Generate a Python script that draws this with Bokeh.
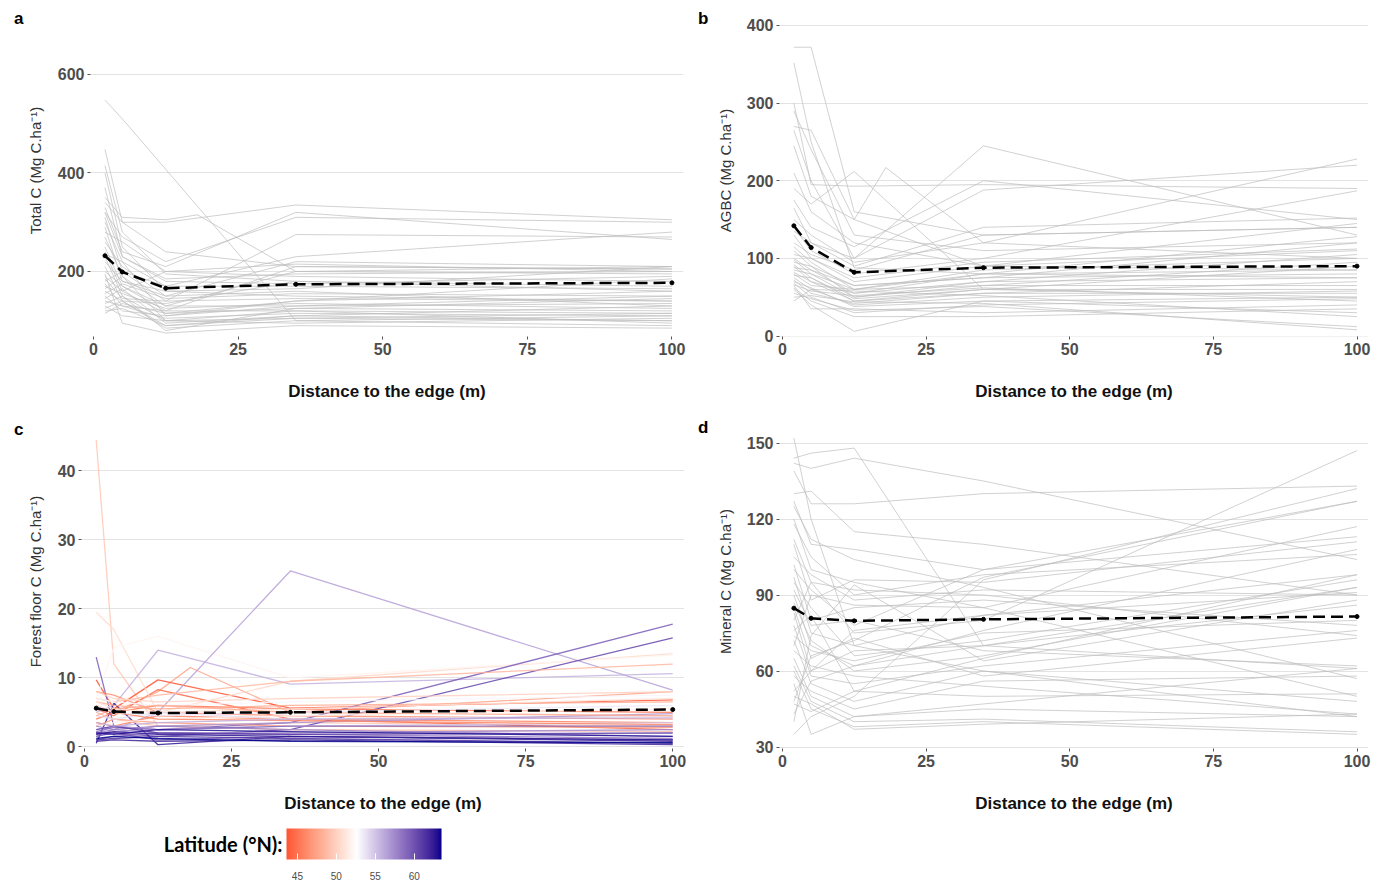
import math
from bokeh.plotting import figure
from bokeh.models import (ColumnDataSource, Range1d, Label, ColorBar, LinearColorMapper,
                          FixedTicker, LinearAxis)
from bokeh.transform import linear_cmap
from bokeh.layouts import row, column
from bokeh.embed import file_html
from bokeh.resources import INLINE

# ---------------- data ----------------
DIST = [2, 5, 12.5, 18, 35, 100]
MEAN_DIST = [2, 5, 12.5, 35, 100]
N = None

LATITUDE = [47.5, 49.5, 43.6, 44.5, 50.5, 52.0, 55.8, 56.5, 59.5, 60.5,
            62.5, 45.0, 45.8, 46.5, 47.0, 48.0, 48.5, 49.0, 50.0, 51.0,
            51.8, 53.0, 54.0, 55.0, 57.0, 57.5, 58.0, 58.5, 59.0, 60.0,
            61.0, 61.5, 62.0, 63.0, 63.5, 46.0, 47.8, 53.5, 56.0, 62.8]

TOTAL_C = [
    [548, 510, N, N, 100, 110], [448, 300, 240, N, 210, 205], [415, 280, 195, N, 180, 170],
    [400, 250, 160, N, 150, 140], [370, 230, 180, N, 175, 190], [350, 310, 305, 315, 200, 210],
    [340, 300, 300, N, 335, 305], [330, 240, 210, N, 320, 265], [320, 270, 220, N, 310, 300],
    [310, 200, 140, N, 275, 270], [300, 220, 170, N, 230, 280], [290, 180, 150, N, 220, 210],
    [280, 260, 200, N, 215, 200], [270, 190, 130, N, 130, 150], [260, 210, 150, N, 160, 130],
    [250, 170, 120, N, 120, 115], [240, 160, 200, N, 190, 180], [235, 220, 110, N, 140, 160],
    [230, 150, 100, N, 105, 100], [220, 180, 160, N, 165, 210], [210, 140, 90, N, 110, 130],
    [200, 170, 130, N, 200, 195], [195, 95, 75, N, 90, 85], [190, 160, 115, N, 125, 120],
    [185, 145, 140, N, 145, 140], [180, 200, 170, N, 170, 165], [175, 130, 105, N, 115, 110],
    [170, 155, 125, N, 135, 125], [165, 190, 100, N, 95, 105], [160, 140, 85, N, 100, 90],
    [155, 175, 145, N, 155, 150], [150, 120, 110, N, 130, 135], [145, 165, 95, N, 110, 100],
    [140, 130, 120, N, 210, 205], [135, 150, 80, N, 125, 145], [130, 110, 100, N, 120, 95],
    [125, 140, 135, N, 180, 160], [120, 125, 90, N, 105, 115], [115, 135, 115, N, 140, 185],
    [320, 230, 185, N, 195, 200]]

AGBC = [
    [372, 372, 160, N, 130, 140], [352, 250, 88, N, 80, 75], [300, 195, 193, N, 195, 190],
    [290, 240, 130, N, 110, 120], [270, 265, 150, N, 90, 85], [265, 200, 100, N, 245, 130],
    [245, 180, 150, 217, 120, 100], [190, 170, 212, N, 60, 50], [175, 140, 115, N, 200, 150],
    [165, 120, 100, N, 188, 220], [150, 130, 95, N, 120, 228], [140, 110, 80, N, 100, 187],
    [135, 120, 90, N, 140, 152], [130, 100, 70, N, 90, 145], [120, 105, 85, N, 130, 140],
    [115, 95, 60, N, 80, 128], [110, 90, 65, N, 75, 120], [105, 100, 75, N, 95, 112],
    [100, 85, 55, N, 70, 105], [98, 80, 60, N, 85, 100], [95, 90, 50, N, 65, 95],
    [92, 75, 45, N, 60, 90], [90, 70, 55, N, 80, 85], [88, 85, 65, N, 75, 80],
    [85, 80, 50, N, 70, 75], [82, 70, 45, N, 55, 70], [80, 65, 60, N, 65, 65],
    [78, 75, 48, N, 60, 60], [75, 60, 40, N, 50, 58], [72, 55, 42, N, 55, 55],
    [70, 62, 38, N, 45, 50], [68, 50, 30, N, 40, 48], [66, 58, 52, N, 62, 45],
    [65, 35, 35, N, 30, 40], [62, 45, 25, N, 25, 35], [60, 40, 6, N, 45, 30],
    [55, 48, 33, N, 38, 12], [50, 52, 44, N, 42, 8], [45, 60, 58, N, 52, 25],
    [210, 160, 120, N, 90, 110]]

FOREST_FLOOR_C = [
    [6.0, 5.0, 8.0, 11.5, 5.0, 8.0], [44.5, 12.0, 3.0, N, 3.5, 3.0], [9.7, 5.5, 9.7, N, 5.6, 6.8],
    [5.5, 4.5, 8.3, N, 4.0, 2.5], [19.5, 17.0, 5.0, N, 9.5, 13.5], [7.0, 14.4, 16.0, N, 10.0, 13.3],
    [5.0, 6.0, 14.0, N, 9.1, 10.6], [1.5, 2.5, 5.0, N, 25.5, 8.2], [13.0, 3.0, 2.5, N, 3.5, 17.8],
    [2.0, 2.0, 1.5, N, 2.5, 15.8], [0.5, 6.3, 0.3, N, 1.5, 0.8], [4.0, 5.0, 6.0, N, 5.5, 5.0],
    [3.5, 3.0, 4.5, N, 4.0, 3.5], [8.0, 7.5, 5.0, N, 4.5, 4.0], [3.0, 4.0, 3.5, N, 3.0, 2.8],
    [6.5, 6.0, 5.5, N, 6.0, 6.5], [7.0, 6.5, 7.5, N, 9.5, 12.0], [5.0, 4.0, 3.0, N, 2.5, 2.2],
    [8.0, 7.0, 6.5, N, 7.0, 8.0], [6.5, 5.5, 5.0, N, 5.5, 7.0], [3.0, 3.5, 4.0, N, 4.5, 5.5],
    [7.0, 6.5, 6.0, N, 6.5, 7.5], [4.5, 4.0, 5.0, N, 4.0, 4.5], [2.5, 3.0, 2.5, N, 3.0, 3.5],
    [1.8, 2.0, 3.0, N, 3.5, 4.8], [3.0, 2.5, 2.0, N, 2.0, 2.5], [2.0, 2.5, 3.0, N, 2.5, 1.5],
    [1.0, 1.5, 2.0, N, 1.8, 1.2], [2.2, 2.8, 2.5, N, 3.0, 3.0], [1.5, 2.0, 1.0, N, 1.5, 1.0],
    [2.5, 3.0, 2.0, N, 1.8, 2.0], [1.0, 1.2, 1.5, N, 1.2, 0.5], [0.8, 1.0, 0.8, N, 1.0, 0.3],
    [2.0, 1.8, 2.5, N, 2.2, 1.5], [1.2, 1.5, 1.2, N, 0.8, 0.6], [5.5, 5.0, 4.0, N, 3.8, 3.2],
    [4.5, 5.5, 6.0, N, 5.0, 4.5], [6.0, 5.0, 4.5, N, 5.0, 6.0], [3.5, 3.0, 3.5, N, 4.0, 4.2],
    [1.8, 2.2, 1.8, N, 1.5, 1.0]]

MINERAL_C = [
    [152, 120, 70, N, 60, 42], [144, 146, 148, N, 70, 61], [142, 140, 144, N, 135, 104],
    [139, 126, 126, N, 130, 133], [130, 131, 115, N, 110, 90], [127, 110, 108, N, 100, 113],
    [125, 112, 104, N, 93, 57], [120, 100, 95, N, 85, 117], [118, 105, 90, N, 98, 106],
    [112, 95, 75, N, 80, 147], [110, 88, 96, N, 95, 111], [105, 98, 88, N, 92, 90],
    [102, 80, 85, N, 88, 78], [100, 92, 78, N, 100, 127], [97, 75, 70, N, 82, 98],
    [95, 85, 66, N, 72, 96], [92, 78, 80, N, 68, 62], [90, 70, 62, N, 76, 108],
    [87, 72, 60, N, 66, 93], [85, 65, 73, N, 58, 73], [83, 60, 68, N, 70, 86],
    [80, 95, 92, N, 90, 74], [78, 58, 55, N, 62, 76], [76, 82, 52, N, 50, 51],
    [74, 68, 64, N, 75, 80], [72, 55, 48, N, 60, 48], [70, 90, 86, N, 85, 50],
    [68, 62, 58, N, 54, 43], [65, 50, 42, N, 45, 42], [62, 48, 40, N, 41, 36],
    [60, 45, 38, N, 40, 35], [58, 52, 45, N, 56, 58], [55, 35, 42, N, 47, 61],
    [52, 60, 76, N, 82, 91], [50, 47, 37, N, 39, 43], [47, 44, 52, N, 65, 98],
    [43, 56, 62, N, 70, 93], [40, 74, 94, N, 64, 88], [35, 42, 50, N, 96, 132],
    [48, 66, 72, N, 97, 127]]

MEAN_TOTAL = [232, 199, 166, 174, 177]
MEAN_AGBC = [142, 114, 82, 88, 90]
MEAN_FF = [5.6, 5.1, 4.9, 5.0, 5.4]
MEAN_MIN = [84.8, 80.8, 79.8, 80.4, 81.5]

LAT_MID = 52.6
LAT_TICKS = [45, 50, 55, 60]
X_TICKS = [0, 25, 50, 75, 100]

# ---------------- colour scale (red - white - darkblue, Lab) ----------------
def _lin(c):
    c = c / 255.0
    return c / 12.92 if c <= 0.04045 else ((c + 0.055) / 1.055) ** 2.4

def _gam(c):
    v = 12.92 * c if c <= 0.0031308 else 1.055 * (max(c, 0) ** (1 / 2.4)) - 0.055
    return int(max(0, min(255, round(v * 255))))

def _to_lab(rgb):
    r, g, b = (_lin(v) for v in rgb)
    X = (0.4124 * r + 0.3576 * g + 0.1805 * b) / 0.95047
    Y = 0.2126 * r + 0.7152 * g + 0.0722 * b
    Z = (0.0193 * r + 0.1192 * g + 0.9505 * b) / 1.08883
    f = lambda t: t ** (1 / 3) if t > 0.008856 else 7.787 * t + 16 / 116
    fx, fy, fz = f(X), f(Y), f(Z)
    return (116 * fy - 16, 500 * (fx - fy), 200 * (fy - fz))

def _from_lab(lab):
    L, a, b = lab
    fy = (L + 16) / 116
    fx = fy + a / 500
    fz = fy - b / 200
    fi = lambda t: t ** 3 if t ** 3 > 0.008856 else (t - 16 / 116) / 7.787
    X, Y, Z = fi(fx) * 0.95047, fi(fy), fi(fz) * 1.08883
    r = 3.2406 * X - 1.5372 * Y - 0.4986 * Z
    g = -0.9689 * X + 1.8758 * Y + 0.0415 * Z
    bb = 0.0557 * X - 0.2040 * Y + 1.0570 * Z
    return "#%02x%02x%02x" % (_gam(r), _gam(g), _gam(bb))

LOW_C, MID_C, HIGH_C = _to_lab((255, 0, 0)), _to_lab((255, 255, 255)), _to_lab((0, 0, 139))
LAT_LOW, LAT_HIGH = min(LATITUDE), max(LATITUDE)
_half = max(LAT_MID - LAT_LOW, LAT_HIGH - LAT_MID)
PALETTE = []
for i in range(256):
    v = LAT_LOW + (LAT_HIGH - LAT_LOW) * i / 255
    t = 0.5 + (v - LAT_MID) / (2 * _half)
    if t < 0.5:
        f = t / 0.5
        c = tuple(LOW_C[k] + (MID_C[k] - LOW_C[k]) * f for k in range(3))
    else:
        f = (t - 0.5) / 0.5
        c = tuple(MID_C[k] + (HIGH_C[k] - MID_C[k]) * f for k in range(3))
    PALETTE.append(_from_lab(c))

# ---------------- styling ----------------
FONT = "Liberation Sans"
GREY_LINE = "#bdbdbd"


def site_lines(table):
    xs, ys = [], []
    for r in table:
        pts = [(d, v) for d, v in zip(DIST, r) if v is not None]
        xs.append([d for d, _ in pts])
        ys.append([v for _, v in pts])
    return xs, ys


def make_fig(width, height, left, right, top, bottom, yr, yticks, ylabel, ystand,
             letter, letter_y, letter_standoff):
    p = figure(width=width, height=height, x_range=Range1d(-0.5, 102), y_range=Range1d(*yr),
               output_backend="svg", toolbar_location=None,
               min_border_left=left, min_border_right=right,
               min_border_top=top, min_border_bottom=bottom)
    p.outline_line_color = None
    p.background_fill_color = "white"
    p.xaxis.ticker = FixedTicker(ticks=X_TICKS)
    p.yaxis.ticker = FixedTicker(ticks=yticks)
    p.xgrid.grid_line_color = None
    p.ygrid.grid_line_color = "#e3e3e3"
    p.ygrid.grid_line_width = 1.2
    for ax in p.axis:
        ax.axis_line_color = None
        ax.major_tick_line_color = "#555555"
        ax.major_tick_out = 3
        ax.major_tick_in = 0
        ax.minor_tick_line_color = None
        ax.major_label_text_font = FONT
        ax.major_label_text_font_style = "bold"
        ax.major_label_text_font_size = "16px"
        ax.major_label_text_color = "#4d4d4d"
        ax.major_label_standoff = 3
    p.xaxis.axis_label = "Distance to the edge (m)"
    p.xaxis.axis_label_text_font = FONT
    p.xaxis.axis_label_text_font_style = "bold"
    p.xaxis.axis_label_text_font_size = "17px"
    p.xaxis.axis_label_text_color = "#111111"
    p.xaxis.axis_label_standoff = 24
    p.yaxis.axis_label = ylabel
    p.yaxis.axis_label_text_font = FONT
    p.yaxis.axis_label_text_font_style = "normal"
    p.yaxis.axis_label_text_font_size = "15px"
    p.yaxis.axis_label_text_color = "#333333"
    p.yaxis.axis_label_standoff = ystand
    # panel letter, drawn as the only label of an extra (invisible) left axis
    lab = LinearAxis(ticker=FixedTicker(ticks=[letter_y]),
                     major_label_overrides={letter_y: letter},
                     axis_line_color=None, major_tick_line_color=None,
                     minor_tick_line_color=None, major_tick_out=0, major_tick_in=0,
                     major_label_standoff=letter_standoff,
                     major_label_text_font=FONT, major_label_text_font_style="bold",
                     major_label_text_font_size="17px", major_label_text_color="black")
    p.add_layout(lab, "left")
    return p


def add_mean(p, mean):
    p.line(MEAN_DIST, mean, line_color="black", line_width=2.5, line_dash="12 6")
    p.scatter(MEAN_DIST, mean, size=4, color="black")


# panel a
pa = make_fig(693, 410, 90, 10, 4, 74, (68, 742.1), [200, 400, 600],
              "Total C (Mg C.ha\u207b\u00b9)", 11, "a", 714, 0)
xs, ys = site_lines(TOTAL_C)
pa.multi_line(xs, ys, line_color=GREY_LINE, line_alpha=0.7, line_width=1)
add_mean(pa, MEAN_TOTAL)

# panel b
pb = make_fig(693, 410, 86, 18, 4, 74, (-0.64, 427.05), [0, 100, 200, 300, 400],
              "AGBC (Mg C.ha\u207b\u00b9)", 10, "b", 409, 5)
xs, ys = site_lines(AGBC)
pb.multi_line(xs, ys, line_color=GREY_LINE, line_alpha=0.7, line_width=1)
add_mean(pb, MEAN_AGBC)

# panel c
pc = make_fig(693, 405, 81, 9, 4, 67, (-0.25, 48.19), [0, 10, 20, 30, 40],
              "Forest floor C (Mg C.ha\u207b\u00b9)", 11, "c", 46, 0)
xs, ys = site_lines(FOREST_FLOOR_C)
src_c = ColumnDataSource(dict(xs=xs, ys=ys, lat=LATITUDE))
pc.multi_line("xs", "ys", source=src_c,
              line_color=linear_cmap("lat", PALETTE, LAT_LOW, LAT_HIGH),
              line_width=1.3, line_alpha=0.85)
add_mean(pc, MEAN_FF)

# panel d
pd_ = make_fig(693, 405, 86, 18, 4, 67, (29.41, 161.25), [30, 60, 90, 120, 150],
               "Mineral C (Mg C.ha\u207b\u00b9)", 10, "d", 156, 5)
xs, ys = site_lines(MINERAL_C)
pd_.multi_line(xs, ys, line_color=GREY_LINE, line_alpha=0.7, line_width=1)
add_mean(pd_, MEAN_MIN)

# legend figure (its frame is aligned with panel c's frame: left = 81)
pl = figure(width=693, height=70, x_range=Range1d(0, 1), y_range=Range1d(0, 1),
            output_backend="svg", toolbar_location=None, x_axis_type=None, y_axis_type=None,
            min_border=0, min_border_left=81)
pl.outline_line_color = None
pl.xgrid.grid_line_color = None
pl.ygrid.grid_line_color = None
mapper = LinearColorMapper(palette=PALETTE, low=LAT_LOW, high=LAT_HIGH)
cb = ColorBar(color_mapper=mapper, orientation="horizontal", width=155, height=31,
              location=(205, 3), padding=0, ticker=FixedTicker(ticks=LAT_TICKS),
              major_label_text_font_size="10px", major_label_text_color="#4d4d4d",
              major_label_text_font=FONT,
              major_tick_line_color="white", major_tick_in=6, major_tick_out=0,
              label_standoff=12, bar_line_color=None, border_line_color=None,
              background_fill_alpha=0)
pl.add_layout(cb, "center")
pl.add_layout(Label(x=201, y=42, x_units="screen", y_units="screen", text="Latitude (\u00b0N):",
                    text_font="Lato", text_font_style="bold", text_font_size="20px",
                    text_color="black", text_align="right", text_baseline="middle"))

layout = column(row(pa, pb), row(column(pc, pl), pd_))
open("out.html", "w").write(file_html(layout, INLINE))
